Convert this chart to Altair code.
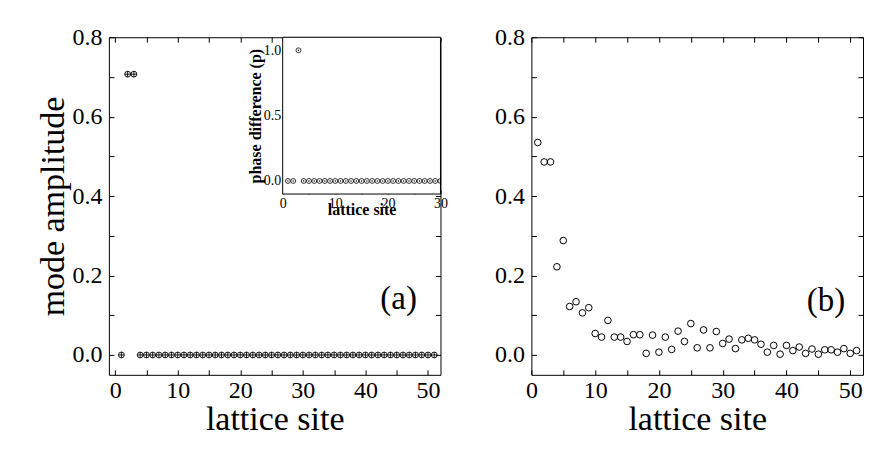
import altair as alt
import pandas as pd

# ---------------- data ----------------
sites_a = list(range(1, 52))
amp_a = [0.0, 0.707, 0.707, 0.0, 0.0, 0.0, 0.0, 0.0, 0.0, 0.0,
         0.0, 0.0, 0.0, 0.0, 0.0, 0.0, 0.0, 0.0, 0.0, 0.0,
         0.0, 0.0, 0.0, 0.0, 0.0, 0.0, 0.0, 0.0, 0.0, 0.0,
         0.0, 0.0, 0.0, 0.0, 0.0, 0.0, 0.0, 0.0, 0.0, 0.0,
         0.0, 0.0, 0.0, 0.0, 0.0, 0.0, 0.0, 0.0, 0.0, 0.0,
         0.0]

sites_inset = list(range(1, 31))
phase_inset = [0.0, 0.0, 1.0, 0.0, 0.0, 0.0, 0.0, 0.0, 0.0, 0.0,
               0.0, 0.0, 0.0, 0.0, 0.0, 0.0, 0.0, 0.0, 0.0, 0.0,
               0.0, 0.0, 0.0, 0.0, 0.0, 0.0, 0.0, 0.0, 0.0, 0.0]

sites_b = list(range(1, 52))
amp_b = [0.535, 0.486, 0.486, 0.222, 0.288, 0.122, 0.134, 0.106, 0.119, 0.054,
         0.045, 0.087, 0.045, 0.045, 0.034, 0.051, 0.051, 0.004, 0.050, 0.007,
         0.045, 0.014, 0.060, 0.034, 0.079, 0.018, 0.063, 0.018, 0.059, 0.029,
         0.040, 0.016, 0.038, 0.042, 0.038, 0.027, 0.007, 0.024, 0.002, 0.024,
         0.011, 0.020, 0.004, 0.015, 0.002, 0.013, 0.013, 0.007, 0.016, 0.004,
         0.011]

x_ticks_main = [0, 5, 10, 15, 20, 25, 30, 35, 40, 45, 50]
y_ticks_main = [0.0, 0.1, 0.2, 0.3, 0.4, 0.5, 0.6, 0.7, 0.8]
x_ticks_inset = [0, 5, 10, 15, 20, 25, 30]
y_ticks_inset = [0.0, 0.25, 0.5, 0.75, 1.0]

x_dom_a = [-1, 52]
x_dom_b = [0, 52]
y_dom_main = [-0.05, 0.8]
x_dom_inset = [0, 30]
y_dom_inset = [-0.1, 1.1]

panel_labels_a = pd.DataFrame({"x": [45.3], "y": [0.115], "t": ["(a)"]})
panel_labels_b = pd.DataFrame({"x": [46.2], "y": [0.11], "t": ["(b)"]})

df_a = pd.DataFrame({"site": sites_a, "amp": amp_a})
df_b = pd.DataFrame({"site": sites_b, "amp": amp_b})
df_in = pd.DataFrame({"site": sites_inset, "phase": phase_inset})
df_frame = pd.DataFrame({"x0": [x_dom_inset[0]], "x1": [x_dom_inset[1]],
                         "y0": [y_dom_inset[0]], "y1": [y_dom_inset[1]]})

# ---------------- layout constants ----------------
W, H = 332, 338
TS = 5          # main tick length (drawn inward)
TSI = 4         # inset tick length
INSET_X = [174, 332]
INSET_Y = [157, 0]
FONT = "Liberation Serif"
PLUS = "M-1,0L1,0M0,-1L0,1"

x_lab = "datum.value % 10 === 0 ? format(datum.value, 'd') : ''"
y_lab = "abs(round(datum.value * 10)) % 2 === 0 ? format(datum.value, '.1f') : ''"
yi_lab = "abs(round(datum.value * 4)) % 2 === 0 ? format(datum.value, '.1f') : ''"
xi_lab = "datum.value % 10 === 0 ? format(datum.value, 'd') : ''"

AX = dict(labelFont=FONT, titleFont=FONT, labelColor="black", titleColor="black",
          tickColor="black", tickWidth=1, domain=False, grid=False,
          labelFlush=False, labelOverlap=False)


def main_axes(xdom, ytitle):
    xs = alt.Scale(domain=xdom, nice=False, zero=False)
    ys = alt.Scale(domain=y_dom_main, nice=False, zero=False)
    bx = alt.Axis(orient="bottom", offset=-TS, tickSize=TS, values=x_ticks_main,
                  labelExpr=x_lab, labelFontSize=24, labelPadding=4,
                  title="lattice site", titleFontSize=34, titleFontWeight="normal",
                  titlePadding=0, **AX)
    ly = alt.Axis(orient="left", offset=-TS, tickSize=TS, values=y_ticks_main,
                  labelExpr=y_lab, labelFontSize=24, labelPadding=7,
                  title=ytitle, titleFontSize=34, titleFontWeight="normal",
                  titlePadding=1, **AX)
    tx = alt.Axis(orient="top", offset=-TS, tickSize=TS, values=x_ticks_main,
                  labels=False, title=None, **AX)
    ry = alt.Axis(orient="right", offset=-TS, tickSize=TS, values=y_ticks_main,
                  labels=False, title=None, **AX)
    return xs, ys, bx, ly, tx, ry


def panel_a():
    xs, ys, bx, ly, tx, ry = main_axes(x_dom_a, "mode amplitude")
    base = alt.Chart(df_a)
    circ = base.mark_point(shape="circle", filled=False, color="black",
                           size=34, strokeWidth=0.9, opacity=1).encode(
        x=alt.X("site:Q", scale=xs, axis=bx),
        y=alt.Y("amp:Q", scale=ys, axis=ly))
    plus = base.mark_point(shape=PLUS, filled=False, color="black",
                           size=34, strokeWidth=0.9, opacity=1).encode(
        x=alt.X("site:Q", scale=xs, axis=tx),
        y=alt.Y("amp:Q", scale=ys, axis=ry))
    lab = alt.Chart(panel_labels_a).mark_text(font=FONT, fontSize=33,
                                               baseline="alphabetic",
                                               align="center", color="black").encode(
        x=alt.X("x:Q", scale=xs, axis=None),
        y=alt.Y("y:Q", scale=ys, axis=None),
        text="t:N")

    xsi = alt.Scale(domain=x_dom_inset, range=INSET_X, nice=False, zero=False)
    ysi = alt.Scale(domain=y_dom_inset, range=INSET_Y, nice=False, zero=False)
    frame = alt.Chart(df_frame).mark_rect(fill="white", stroke="black",
                                          strokeWidth=1).encode(
        x=alt.X("x0:Q", scale=xsi, axis=None),
        x2="x1:Q",
        y=alt.Y("y0:Q", scale=ysi, axis=None),
        y2="y1:Q")
    bxi = alt.Axis(orient="bottom", offset=-(H - INSET_Y[0] + TSI), tickSize=TSI,
                   values=x_ticks_inset, labelExpr=xi_lab, labelFontSize=14,
                   labelPadding=2, title="lattice site", titleFontSize=16,
                   titleFontWeight="bold", titlePadding=-9, **AX)
    lyi = alt.Axis(orient="left", offset=-(INSET_X[0] + TSI), tickSize=TSI,
                   values=y_ticks_inset, labelExpr=yi_lab, labelFontSize=14,
                   labelPadding=2, title="phase difference (p)", titleFontSize=16,
                   titleFontWeight="bold", titlePadding=0, **AX)
    txi = alt.Axis(orient="top", offset=-TSI, tickSize=TSI, values=x_ticks_inset,
                   labels=False, title=None, **AX)
    ryi = alt.Axis(orient="right", offset=-TSI, tickSize=TSI, values=y_ticks_inset,
                   labels=False, title=None, **AX)
    ibase = alt.Chart(df_in)
    icirc = ibase.mark_point(shape="circle", filled=False, color="black",
                             size=24, strokeWidth=0.8, opacity=1, clip=True).encode(
        x=alt.X("site:Q", scale=xsi, axis=bxi),
        y=alt.Y("phase:Q", scale=ysi, axis=lyi))
    idot = ibase.mark_point(shape="circle", filled=True, color="black",
                            size=2, opacity=1, clip=True).encode(
        x=alt.X("site:Q", scale=xsi, axis=txi),
        y=alt.Y("phase:Q", scale=ysi, axis=ryi))

    return alt.layer(circ, plus, lab, frame, icirc, idot).resolve_scale(
        x="independent", y="independent").resolve_axis(
        x="independent", y="independent").properties(width=W, height=H)


def panel_b():
    xs, ys, bx, ly, tx, ry = main_axes(x_dom_b, None)
    base = alt.Chart(df_b)
    circ = base.mark_point(shape="circle", filled=False, color="black",
                           size=44, strokeWidth=1, opacity=1).encode(
        x=alt.X("site:Q", scale=xs, axis=bx),
        y=alt.Y("amp:Q", scale=ys, axis=ly))
    ghost = base.mark_point(opacity=0).encode(
        x=alt.X("site:Q", scale=xs, axis=tx),
        y=alt.Y("amp:Q", scale=ys, axis=ry))
    lab = alt.Chart(panel_labels_b).mark_text(font=FONT, fontSize=33,
                                               baseline="alphabetic",
                                               align="center", color="black").encode(
        x=alt.X("x:Q", scale=xs, axis=None),
        y=alt.Y("y:Q", scale=ys, axis=None),
        text="t:N")
    return alt.layer(circ, ghost, lab).resolve_scale(
        x="independent", y="independent").resolve_axis(
        x="independent", y="independent").properties(width=W, height=H)


chart = alt.hconcat(panel_a(), panel_b(), spacing=91, bounds="flush").properties(
    padding={"left": 28, "top": 16, "right": 0, "bottom": 5},
    background="white"
).configure_view(stroke="black", strokeWidth=1)

chart.save("out.html", embed_options={"renderer": "svg", "actions": False})
